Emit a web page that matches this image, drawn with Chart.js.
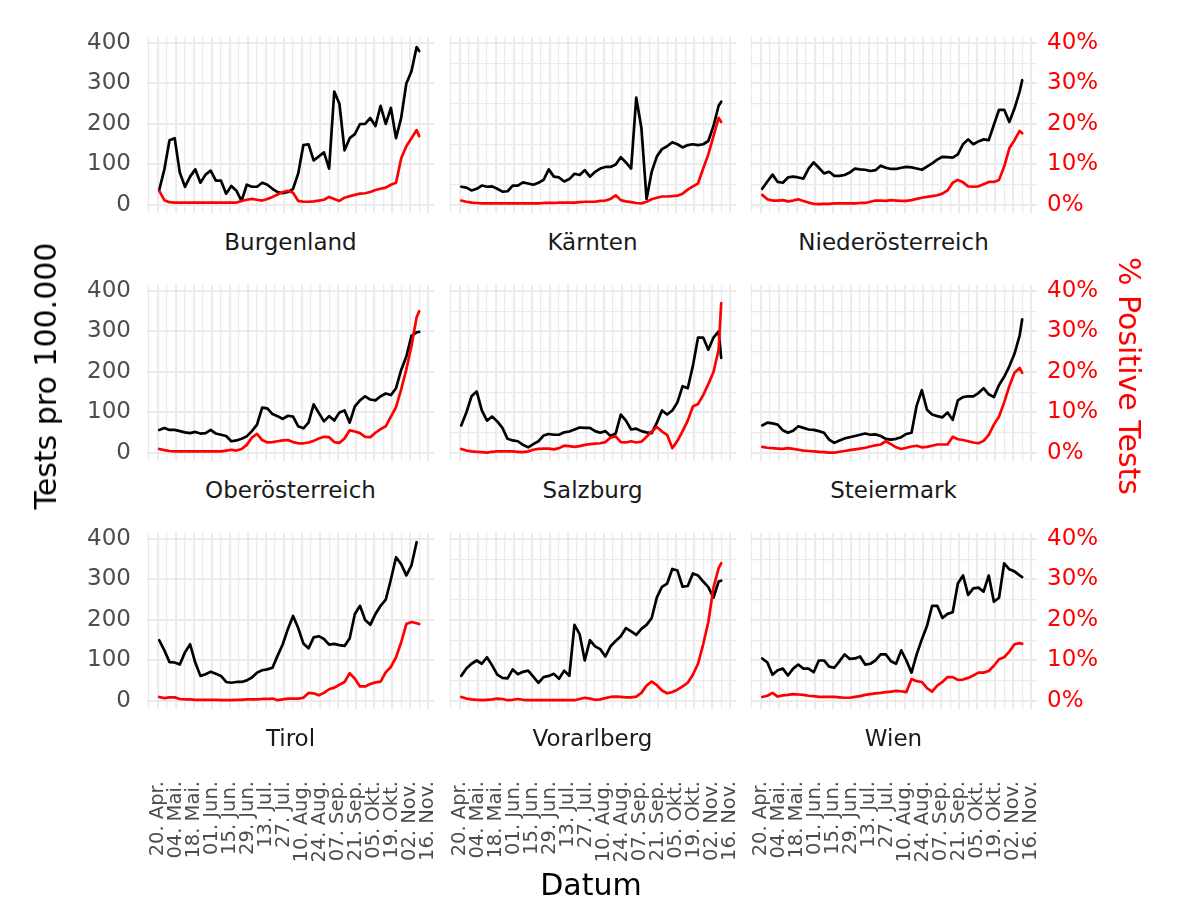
<!DOCTYPE html>
<html><head><meta charset="utf-8">
<script src="https://cdn.jsdelivr.net/npm/chart.js"></script>
<style>
html,body{margin:0;padding:0;background:#fff;}
#root{position:relative;width:1200px;height:923px;overflow:hidden;font-family:"DejaVu Sans",sans-serif;}
#root canvas{position:absolute;}
.t{position:absolute;white-space:nowrap;line-height:1;}
</style></head><body><div id="root"></div>
<script>
const regions = ["Burgenland","Kärnten","Niederösterreich","Oberösterreich","Salzburg","Steiermark","Tirol","Vorarlberg","Wien"];
const tickLabels = ["20. Apr.","04. Mai.","18. Mai.","01. Jun.","15. Jun.","29. Jun.","13. Jul.","27. Jul.","10. Aug.","24. Aug.","07. Sep.","21. Sep.","05. Okt.","19. Okt.","02. Nov.","16. Nov."];
// days after 20 April
const days = [1,5,9,13,17,21,25,29,33,37,41,45,49,53,57,61,65,69,73,77,81,85,89,93,97,101,105,109,113,117,121,125,129,133,137,141,145,149,153,157,161,165,169,173,177,181,185,189,193,197,201,203];

const testsBurgenland = [37,88,160,165,80,45,70,88,55,75,85,60,60,28,47,35,10,50,45,45,55,50,40,32,29,32,40,78,148,150,110,120,130,90,280,250,135,165,175,200,200,215,195,245,200,240,165,215,300,330,390,380];
const posBurgenland = [3.5,1.2,0.7,0.6,0.6,0.6,0.6,0.6,0.6,0.6,0.6,0.6,0.6,0.6,0.6,0.6,1.0,1.3,1.5,1.3,1.1,1.5,2.0,2.6,3.2,3.5,3.0,1.0,0.8,0.8,0.9,1.1,1.3,2.0,1.5,1.0,1.8,2.2,2.5,2.8,2.9,3.2,3.7,4.0,4.3,5.0,5.5,11.5,14.5,16.5,18.5,17.0];

const testsKaernten = [45,43,36,40,48,45,46,40,33,34,48,48,56,53,50,55,62,88,70,68,58,64,77,74,86,70,82,90,94,94,100,118,105,90,265,190,15,82,120,138,145,155,150,142,148,150,148,150,158,195,245,255];
const posKaernten = [1.1,0.8,0.6,0.5,0.4,0.4,0.4,0.4,0.4,0.4,0.4,0.4,0.4,0.4,0.4,0.4,0.5,0.5,0.5,0.6,0.6,0.6,0.6,0.7,0.8,0.8,0.8,1.0,1.1,1.5,2.4,1.2,0.9,0.7,0.5,0.4,0.8,1.4,1.8,2.1,2.1,2.2,2.3,2.8,3.8,4.6,5.3,9.0,12.5,17.0,21.5,20.5];

const testsNiederoesterreich = [40,58,75,57,55,68,70,68,65,90,105,92,78,82,72,72,74,80,90,88,87,84,86,97,92,89,89,92,94,93,90,87,95,103,112,119,118,117,125,150,162,150,157,162,160,198,235,235,205,238,280,308];
const posNiederoesterreich = [2.5,1.4,1.1,1.1,1.2,0.9,1.1,1.4,1.0,0.6,0.3,0.2,0.3,0.3,0.4,0.4,0.4,0.4,0.4,0.5,0.5,0.8,1.1,1.1,1.0,1.2,1.1,1.0,1.0,1.2,1.5,1.8,2.0,2.2,2.4,2.8,3.6,5.5,6.2,5.6,4.6,4.5,4.6,5.1,5.7,5.7,6.2,9.5,14.0,16.0,18.3,17.7];

const testsOberoesterreich = [57,62,57,57,54,51,49,52,48,49,57,48,45,42,29,31,35,41,54,70,112,110,96,91,84,92,90,66,61,75,120,99,78,91,80,100,105,75,115,130,140,132,130,140,147,143,160,205,238,289,298,299];
const posOberoesterreich = [1.0,0.7,0.5,0.4,0.4,0.4,0.4,0.4,0.4,0.4,0.4,0.4,0.4,0.6,0.8,0.6,1.0,2.0,3.8,4.7,3.2,2.6,2.7,2.9,3.1,3.2,2.7,2.4,2.4,2.6,3.0,3.6,4.0,3.9,2.7,2.5,3.6,5.6,5.3,4.9,4.0,3.9,5.0,5.9,6.6,9.0,11.3,15.7,20.6,26.4,33.5,35.0];

const testsSalzburg = [68,100,140,152,105,80,90,78,62,35,31,29,20,14,22,29,43,47,45,45,51,53,58,63,62,62,54,50,54,42,48,95,80,58,60,54,51,49,75,105,95,105,125,165,160,215,285,285,255,285,300,235];
const posSalzburg = [1.0,0.6,0.4,0.3,0.2,0.1,0.3,0.4,0.4,0.4,0.4,0.3,0.2,0.4,0.8,1.0,1.1,1.1,0.9,1.2,1.8,1.7,1.5,1.7,2.0,2.2,2.3,2.4,2.7,3.8,4.1,2.7,2.6,2.9,2.6,2.8,4.0,5.3,6.4,5.3,4.5,1.2,3.0,5.4,8.0,11.5,12.1,14.3,17.0,20.0,25.5,37.0];

const testsSteiermark = [68,75,73,70,56,50,55,66,62,58,57,54,50,33,25,31,36,39,42,45,48,45,46,42,35,33,35,39,47,50,117,155,107,95,91,88,100,82,130,138,140,140,148,160,145,138,168,188,214,245,290,330];
const posSteiermark = [1.5,1.3,1.2,1.1,1.0,1.2,1.0,0.8,0.6,0.5,0.4,0.3,0.2,0.1,0.1,0.3,0.5,0.7,0.9,1.1,1.3,1.6,1.9,2.1,2.9,2.2,1.4,1.0,1.3,1.6,1.8,1.4,1.5,1.8,2.1,2.1,2.1,4.0,3.4,3.2,2.9,2.6,2.4,3.0,4.5,7.0,9.0,12.5,16.5,19.8,21.0,19.8];

const testsTirol = [150,125,96,95,90,120,140,95,62,66,72,67,62,47,45,47,47,51,58,70,76,78,82,112,140,178,210,180,142,130,157,160,153,139,141,138,136,155,215,235,200,188,215,235,250,300,355,338,310,335,392,null];
const posTirol = [1.0,0.7,0.9,0.9,0.5,0.4,0.4,0.3,0.3,0.3,0.3,0.3,0.2,0.2,0.2,0.3,0.3,0.4,0.4,0.4,0.5,0.5,0.6,0.2,0.4,0.6,0.6,0.6,0.8,2.0,1.9,1.4,2.0,2.9,3.3,4.0,4.7,6.9,5.5,3.6,3.6,4.2,4.6,4.8,7.1,8.4,10.8,14.5,19.0,19.5,19.2,19.0];

const testsVorarlberg = [62,80,92,100,92,108,88,65,57,56,78,66,72,75,60,45,59,62,67,55,75,62,188,165,100,150,135,128,110,135,148,160,180,172,163,178,188,205,256,282,290,326,322,282,284,315,310,295,281,255,295,297];
const posVorarlberg = [1.0,0.6,0.4,0.3,0.2,0.3,0.4,0.6,0.5,0.2,0.3,0.5,0.3,0.2,0.2,0.2,0.2,0.2,0.2,0.2,0.2,0.2,0.2,0.5,0.8,0.6,0.3,0.4,0.7,1.0,1.1,1.0,0.9,0.9,1.1,2.0,3.8,4.8,3.9,2.6,1.9,2.2,2.8,3.6,4.5,6.5,9.2,14.0,19.5,28.0,32.8,34.0];

const testsWien = [105,95,65,76,80,63,80,90,80,80,71,100,100,85,82,98,115,104,105,110,90,92,100,115,115,98,92,125,100,70,115,152,185,235,235,205,215,219,290,310,262,278,280,270,310,245,255,340,325,320,310,306];
const posWien = [1.0,1.3,2.0,1.1,1.4,1.5,1.7,1.6,1.5,1.3,1.2,1.0,1.0,1.0,1.0,0.9,0.8,0.8,1.0,1.2,1.5,1.7,1.9,2.0,2.2,2.3,2.5,2.4,2.2,5.4,4.9,4.7,3.2,2.3,3.8,4.7,5.9,5.9,5.2,5.3,5.7,6.3,7.0,7.0,7.4,8.7,10.3,10.8,12.2,14.0,14.3,14.1];

const testsByRegion = [testsBurgenland,testsKaernten,testsNiederoesterreich,testsOberoesterreich,testsSalzburg,testsSteiermark,testsTirol,testsVorarlberg,testsWien];
const posByRegion = [posBurgenland,posKaernten,posNiederoesterreich,posOberoesterreich,posSalzburg,posSteiermark,posTirol,posVorarlberg,posWien];

// layout (pixels)
const PW = 287, PH = 176, L = 120, R = 110, T = 6;
const colLeft = [147, 449, 750];
const rowTop = [37, 285, 533];
const xMin = -8.5, xMax = 214.5, yMin = -19.75, yMax = 414.75;
const FONT = "DejaVu Sans";
const root = document.getElementById('root');

function addText(txt, cx, cy, size, color, rot) {
  const d = document.createElement('div');
  d.className = 't';
  d.textContent = txt;
  d.style.left = cx + 'px';
  d.style.top = cy + 'px';
  d.style.fontSize = size + 'px';
  d.style.color = color;
  d.style.transform = 'translate(-50%,-50%)' + (rot ? ' rotate(' + rot + 'deg)' : '');
  root.appendChild(d);
}

function fixBox(w, h) {
  return s => {
    if (w !== null) s.width = w;
    if (h !== null) s.height = h;
    s.paddingTop = 0; s.paddingBottom = 0; s.paddingLeft = 0; s.paddingRight = 0;
  };
}

regions.forEach((name, i) => {
  const col = i % 3, row = Math.floor(i / 3);
  const B = row === 2 ? 170 : 6;
  const cv = document.createElement('canvas');
  const cw = L + PW + R, ch = T + PH + B;
  cv.width = cw; cv.height = ch;
  cv.style.width = cw + 'px'; cv.style.height = ch + 'px';
  cv.style.left = (colLeft[col] - L) + 'px';
  cv.style.top = (rowTop[row] - T) + 'px';
  root.appendChild(cv);
  const tests = testsByRegion[i], pos = posByRegion[i];
  new Chart(cv, {
    type: 'line',
    data: {
      datasets: [
        { data: days.map((d, k) => ({ x: d, y: pos[k] })), yAxisID: 'y2', borderColor: '#ff0000',
          borderWidth: 2.7, pointRadius: 0, tension: 0, borderJoinStyle: 'round', borderCapStyle: 'round', fill: false },
        { data: days.map((d, k) => ({ x: d, y: tests[k] })), yAxisID: 'y', borderColor: '#000000',
          borderWidth: 2.7, pointRadius: 0, tension: 0, borderJoinStyle: 'round', borderCapStyle: 'round', fill: false }
      ]
    },
    options: {
      responsive: false, animation: false, events: [], devicePixelRatio: 1,
      layout: { padding: { top: T, left: 0, right: 0, bottom: 0 }, autoPadding: false },
      plugins: { legend: { display: false }, tooltip: { enabled: false } },
      scales: {
        x: {
          type: 'linear', min: xMin, max: xMax,
          border: { display: false },
          grid: { color: '#ebebeb', drawTicks: false,
                  lineWidth: c => (c.tick && c.tick.value % 14 === 0) ? 2.1 : 1.2 },
          ticks: { display: row === 2, stepSize: 7, maxTicksLimit: 100, includeBounds: false,
                   autoSkip: false, minRotation: 90, maxRotation: 90, padding: 72,
                   color: '#4d4d4d', font: { family: FONT, size: 19.5 },
                   callback: v => (v >= 0 && v % 14 === 0) ? tickLabels[v / 14] : '' },
          afterFit: fixBox(null, B)
        },
        y: {
          position: 'left', min: yMin, max: yMax,
          border: { display: false },
          grid: { color: '#ebebeb', drawTicks: false,
                  lineWidth: c => (c.tick && c.tick.value % 100 === 0) ? 2.1 : 1.2 },
          ticks: { display: col === 0, stepSize: 50, maxTicksLimit: 100, includeBounds: false,
                   padding: 16, color: '#4d4d4d', font: { family: FONT, size: 23 },
                   callback: v => (v % 100 === 0) ? String(v) : '' },
          afterFit: fixBox(L, null)
        },
        y2: {
          position: 'right', min: yMin / 10, max: yMax / 10,
          border: { display: false },
          grid: { display: false, drawTicks: false },
          ticks: { display: col === 2, stepSize: 10, maxTicksLimit: 100, includeBounds: false,
                   padding: 10, color: '#ff0000', font: { family: FONT, size: 23 },
                   callback: v => v + '%' },
          afterFit: fixBox(R, null)
        }
      }
    }
  });
  addText(name, colLeft[col] + PW / 2, rowTop[row] + PH + 29, 23, '#1a1a1a', 0);
});

addText('Tests pro 100.000', 46, 376, 30, '#000000', -90);
addText('% Positive Tests', 1129, 376, 30, '#ff0000', 90);
addText('Datum', 591, 885, 30, '#000000', 0);
</script>
</body></html>
